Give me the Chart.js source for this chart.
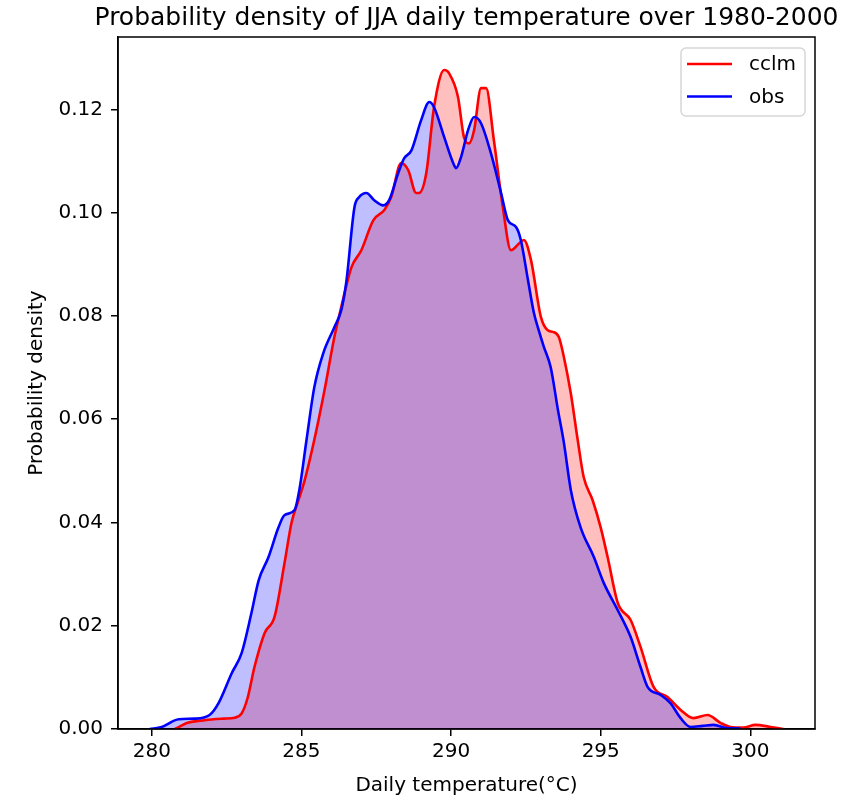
<!DOCTYPE html>
<html>
<head>
<meta charset="utf-8">
<script src="https://cdn.jsdelivr.net/npm/chart.js@4"></script>
<style>
  html, body { margin: 0; padding: 0; background: #fff; }
  #wrap { width: 863px; height: 798px; }
</style>
</head>
<body>
<div id="wrap"><canvas id="chart" width="863" height="798"></canvas></div>
<script>
// KDE curves (temperature, density)
const cclmTemp = [280.77, 281.2, 281.77, 282.4, 282.77, 283.0, 283.2, 283.43, 283.77, 284.1, 284.43, 284.67, 284.9, 285.1,
  285.43, 285.77, 286.1, 286.33, 286.67, 287.0, 287.4, 287.77, 288.0, 288.33, 288.57, 288.83, 288.93, 289.17, 289.43,
  289.77, 289.93, 290.23, 290.43, 290.6, 290.77, 291.0, 291.17, 291.43, 291.73, 292.0, 292.27, 292.43, 292.67, 293.0,
  293.23, 293.4, 293.6, 293.77, 294.0, 294.23, 294.43, 294.73, 295.0, 295.23, 295.57, 296.0, 296.33, 296.77, 297.23,
  297.67, 298.1, 298.57, 299.0, 299.33, 299.77, 300.17, 300.67, 301.1];
const cclmDensity = [0, 0.0012, 0.0017, 0.002, 0.0022, 0.003, 0.006, 0.012, 0.0186, 0.0217, 0.032, 0.040, 0.0443, 0.048,
  0.056, 0.0656, 0.0759, 0.0817, 0.0894, 0.0927, 0.0985, 0.1005, 0.103, 0.1096, 0.1082, 0.1038, 0.1038, 0.1076, 0.1204,
  0.1276, 0.127, 0.1224, 0.1146, 0.1134, 0.116, 0.1241, 0.1241, 0.114, 0.101, 0.0927, 0.094, 0.0947, 0.0908, 0.0798,
  0.0772, 0.0769, 0.0759, 0.072, 0.065, 0.056, 0.0488, 0.0443, 0.039, 0.0333, 0.0244, 0.0211, 0.0159, 0.0081, 0.0062,
  0.0037, 0.0021, 0.0027, 0.0012, 0.0004, 0.0003, 0.0008, 0.0004, 0];

const obsTemp = [279.93, 280.33, 280.9, 281.43, 281.93, 282.23, 282.67, 283.0, 283.33, 283.57, 283.9, 284.23, 284.43,
  284.77, 284.93, 285.17, 285.43, 285.73, 286.1, 286.33, 286.5, 286.77, 286.93, 287.17, 287.43, 287.73, 287.93, 288.23,
  288.43, 288.67, 289.0, 289.27, 289.43, 289.77, 290.07, 290.17, 290.33, 290.57, 290.77, 291.0, 291.33, 291.67, 291.9,
  292.17, 292.33, 292.57, 292.77, 292.93, 293.1, 293.33, 293.57, 293.77, 294.0, 294.33, 294.77, 295.1, 295.57, 296.0,
  296.33, 296.57, 297.0, 297.33, 297.67, 298.0, 298.4, 298.77, 299.2, 299.67];
const obsDensity = [0, 0.0004, 0.0019, 0.002, 0.0027, 0.005, 0.0108, 0.0147, 0.0225, 0.0288, 0.0333, 0.039, 0.0414,
  0.0424, 0.0463, 0.056, 0.0662, 0.0728, 0.0778, 0.0811, 0.0866, 0.101, 0.103, 0.1038, 0.1024, 0.1014, 0.1024, 0.1076,
  0.1105, 0.112, 0.1179, 0.1214, 0.1204, 0.1146, 0.1096, 0.1086, 0.1107, 0.116, 0.1185, 0.1173, 0.1115, 0.1038, 0.0985,
  0.0972, 0.0947, 0.0869, 0.0805, 0.0772, 0.074, 0.070, 0.0618, 0.0554, 0.0463, 0.039, 0.0333, 0.0283, 0.023, 0.0178,
  0.012, 0.0081, 0.0066, 0.005, 0.0021, 0.0004, 0.0006, 0.0008, 0.0002, 0.0001];

const xTickValues = [280, 285, 290, 295, 300];
const yTickValues = [0, 0.02, 0.04, 0.06, 0.08, 0.10, 0.12];
const seriesNames = ['cclm', 'obs'];
const chartTitle = 'Probability density of JJA daily temperature over 1980-2000';

const FONT = 'DejaVu Sans';

function toPoints(xs, ys) {
  return xs.map((x, i) => ({ x: x, y: ys[i] }));
}

// draws the title over the axes, the top/right spines and the matplotlib style legend box
const framePlugin = {
  id: 'frame',
  afterDraw(chart) {
    const { ctx, chartArea: a } = chart;
    ctx.save();
    ctx.fillStyle = '#000';
    ctx.font = '25px ' + FONT;
    ctx.textAlign = 'center';
    ctx.textBaseline = 'alphabetic';
    ctx.fillText(chartTitle, (a.left + a.right) / 2, 25);

    ctx.strokeStyle = '#000';
    ctx.lineWidth = 1.5;
    ctx.strokeRect(a.left, a.top, a.right - a.left, a.bottom - a.top);

    // legend
    const bw = 124, bh = 68;
    const bx = a.right - 10 - bw, by = a.top + 11;
    ctx.fillStyle = 'rgba(255,255,255,0.8)';
    ctx.strokeStyle = '#d6d6d6';
    ctx.lineWidth = 1.5;
    ctx.beginPath();
    ctx.roundRect(bx, by, bw, bh, 5);
    ctx.fill();
    ctx.stroke();
    ctx.font = '20px ' + FONT;
    ctx.textAlign = 'left';
    ctx.textBaseline = 'middle';
    chart.data.datasets.forEach((ds, i) => {
      const y = by + 16 + i * 32.5;
      ctx.strokeStyle = ds.borderColor;
      ctx.lineWidth = 2.6;
      ctx.beginPath();
      ctx.moveTo(bx + 6, y);
      ctx.lineTo(bx + 51, y);
      ctx.stroke();
      ctx.fillStyle = '#000';
      ctx.fillText(ds.label, bx + 68, y + 1);
    });
    ctx.restore();
  }
};

new Chart(document.getElementById('chart'), {
  type: 'line',
  data: {
    datasets: [{
      label: seriesNames[0],
      data: toPoints(cclmTemp, cclmDensity),
      borderColor: 'rgb(255,0,0)',
      backgroundColor: 'rgba(255,0,0,0.25)',
      fill: 'origin',
      borderWidth: 2.6,
      pointRadius: 0,
      cubicInterpolationMode: 'monotone',
      order: 1
    }, {
      label: seriesNames[1],
      data: toPoints(obsTemp, obsDensity),
      borderColor: 'rgb(0,0,255)',
      backgroundColor: 'rgba(0,0,255,0.25)',
      fill: 'origin',
      borderWidth: 2.6,
      pointRadius: 0,
      cubicInterpolationMode: 'monotone',
      order: 0
    }]
  },
  options: {
    responsive: false,
    animation: false,
    layout: { padding: { left: 0, right: 48, top: 37, bottom: 0 } },
    plugins: {
      legend: { display: false },
      tooltip: { enabled: false },
      filler: { drawTime: 'beforeDatasetsDraw' },
      title: { display: false }
    },
    scales: {
      x: {
        type: 'linear',
        min: 278.87,
        max: 302.16,
        afterBuildTicks: (s) => { s.ticks = xTickValues.map(v => ({ value: v })); },
        afterFit: (s) => { s.height = 69; },
        grid: { drawOnChartArea: false, color: '#000', tickLength: 7, lineWidth: 1.5 },
        border: { display: true, color: '#000', width: 1.5 },
        ticks: { color: '#000', padding: 4, maxRotation: 0, font: { family: FONT, size: 20 } },
        title: {
          display: true,
          text: 'Daily temperature(°C)',
          color: '#000',
          font: { family: FONT, size: 20 },
          padding: { top: 0, bottom: 0 }
        }
      },
      y: {
        type: 'linear',
        min: 0,
        max: 0.134,
        afterBuildTicks: (s) => { s.ticks = yTickValues.map(v => ({ value: v })); },
        afterFit: (s) => { s.width = 118; },
        grid: { drawOnChartArea: false, color: '#000', tickLength: 7, lineWidth: 1.5 },
        border: { display: true, color: '#000', width: 1.5 },
        ticks: {
          color: '#000',
          padding: 8,
          font: { family: FONT, size: 20 },
          callback: (v) => v.toFixed(2)
        },
        title: {
          display: true,
          text: 'Probability density',
          color: '#000',
          font: { family: FONT, size: 20 },
          padding: { top: 25, bottom: 0 }
        }
      }
    }
  },
  plugins: [framePlugin]
});
</script>
</body>
</html>
